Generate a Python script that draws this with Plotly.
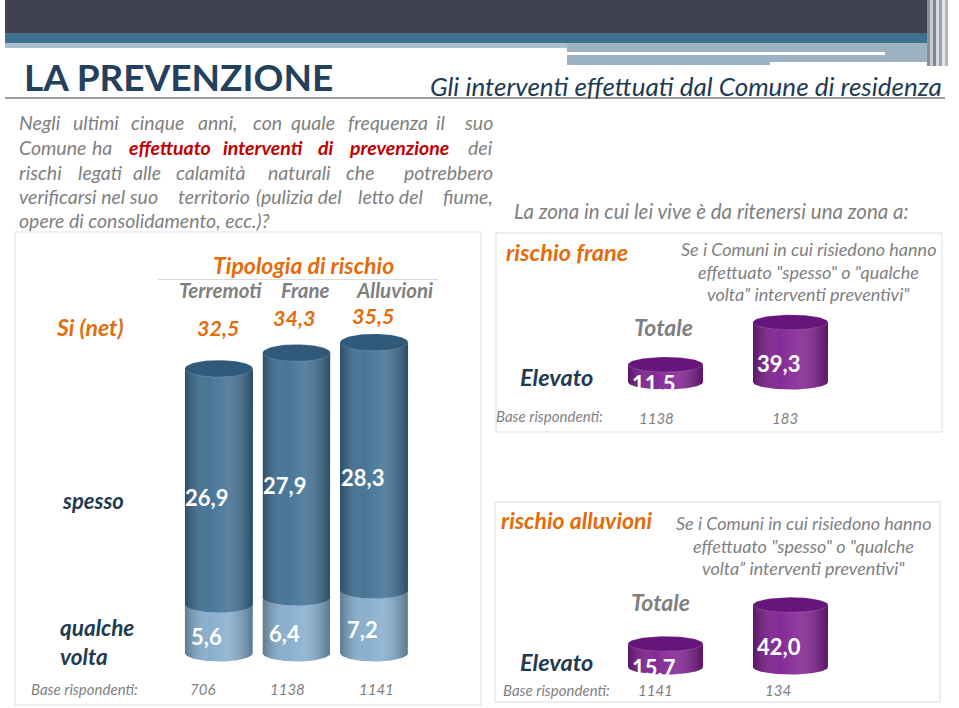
import numpy as np
import plotly.graph_objects as go

W, H = 959, 708

# ---------------- data ----------------
risk_types = ["Terremoti", "Frane", "Alluvioni"]
si_net = [32.5, 34.3, 35.5]
spesso = [26.9, 27.9, 28.3]
qualche_volta = [5.6, 6.4, 7.2]
base_left = [706, 1138, 1141]

right_groups = ["Totale", "Interventi spesso/qualche volta"]
frane_elevato = [11.5, 39.3]
frane_base = [1138, 183]
alluvioni_elevato = [15.7, 42.0]
alluvioni_base = [1141, 134]

# ---------------- helpers ----------------
def fmt(v):
    return f"{v:.1f}".replace(".", ",")

def X(p):
    return p / W

def Y(p):
    return 1 - p / H

FONT = "Lato"
GREY = "#7f7f7f"
DARK = "#1f3b52"
TITLE = "#23405c"
ORANGE = "#e46c0a"
RED = "#c00000"
BLUE_D = "#3f6e92"
BLUE_L = "#84accc"
BLUE_CAP = "#30597a"
PURPLE = "#7f1f90"
PURPLE_CAP = "#66157a"

SHADE = [[0, "rgba(0,0,0,0.30)"], [0.35, "rgba(255,255,255,0.05)"],
         [0.62, "rgba(255,255,255,0.14)"], [1, "rgba(0,0,0,0.32)"]]


def yaxis_cfg(pb, s, ymin, ymax, anchor):
    return dict(domain=[Y(pb - ymin * s), Y(pb - ymax * s)], range=[ymin, ymax],
                visible=False, fixedrange=True, anchor=anchor)


def xaxis_cfg(p0, p1, n, anchor):
    return dict(domain=[X(p0), X(p1)], range=[-0.5, n - 0.5], visible=False,
                fixedrange=True, anchor=anchor)


fig = go.Figure()

# ---------------- bars ----------------
idx3 = list(range(len(risk_types)))
idx2 = list(range(len(right_groups)))
BW_L, BW_R = 0.875, 0.6

fig.add_trace(go.Bar(x=idx3, y=qualche_volta, width=BW_L, marker=dict(color=BLUE_L, line=dict(width=0)),
                     name="qualche volta", xaxis="x", yaxis="y", hoverinfo="skip"))
fig.add_trace(go.Bar(x=idx3, y=spesso, width=BW_L, marker=dict(color=BLUE_D, line=dict(width=0)),
                     name="spesso", xaxis="x", yaxis="y", hoverinfo="skip"))
fig.add_trace(go.Bar(x=idx2, y=frane_elevato, width=BW_R, marker=dict(color=PURPLE, line=dict(width=0)),
                     name="rischio frane", xaxis="x2", yaxis="y2", hoverinfo="skip"))
fig.add_trace(go.Bar(x=idx2, y=alluvioni_elevato, width=BW_R, marker=dict(color=PURPLE, line=dict(width=0)),
                     name="rischio alluvioni", xaxis="x3", yaxis="y3", hoverinfo="skip"))


def cylinder(xi, bw, segs, colors, cap_color, ry, xa, ya):
    t = np.linspace(0, np.pi, 48)
    hx = bw / 2
    bottoms = np.concatenate([[0.0], np.cumsum(segs)[:-1]])
    top = float(np.sum(segs))
    for b, c in zip(bottoms, colors):
        fig.add_trace(go.Scatter(x=xi + hx * np.cos(t), y=b - ry * np.sin(t), fill="toself",
                                 fillcolor=c, mode="lines", line=dict(width=0), hoverinfo="skip",
                                 showlegend=False, xaxis=xa, yaxis=ya))
    xs = np.concatenate([[xi - hx, xi - hx, xi + hx, xi + hx], xi + hx * np.cos(t)])
    ys = np.concatenate([[0, top, top, 0], -ry * np.sin(t)])
    fig.add_trace(go.Scatter(x=xs, y=ys, fill="toself", mode="lines", line=dict(width=0),
                             fillgradient=dict(type="horizontal", colorscale=SHADE),
                             hoverinfo="skip", showlegend=False, xaxis=xa, yaxis=ya))
    t2 = np.linspace(0, 2 * np.pi, 80)
    fig.add_trace(go.Scatter(x=xi + hx * np.cos(t2), y=top + ry * np.sin(t2), fill="toself",
                             fillcolor=cap_color, mode="lines", line=dict(width=0.6, color="rgba(255,255,255,0.25)"),
                             hoverinfo="skip", showlegend=False, xaxis=xa, yaxis=ya))


S_L, S_R1, S_R2 = 8.75, 1.52, 1.48
for i in idx3:
    cylinder(i, BW_L, [qualche_volta[i], spesso[i]], [BLUE_L, BLUE_D], BLUE_CAP, 8.5 / S_L, "x", "y")
for i in idx2:
    cylinder(i, BW_R, [frane_elevato[i]], [PURPLE], PURPLE_CAP, 7.5 / S_R1, "x2", "y2")
    cylinder(i, BW_R, [alluvioni_elevato[i]], [PURPLE], PURPLE_CAP, 7.5 / S_R2, "x3", "y3")

# ---------------- annotations ----------------
ann = []


def txt(x, y, text, size, color, bold=False, italic=False, xanchor="center", yanchor="middle", **kw):
    d = dict(x=x, y=y, text=text, showarrow=False, xanchor=xanchor, yanchor=yanchor, borderpad=0,
             font=dict(family=FONT, size=size, color=color, weight="bold" if bold else "normal",
                       style="italic" if italic else "normal"))
    if "xref" not in kw:
        d["xref"] = "paper"
        d["yref"] = "paper"
    d.update(kw)
    ann.append(d)


# title & subtitle
txt(X(23), Y(77), "LA PREVENZIONE", 37, TITLE, bold=True, xanchor="left")
txt(X(943), Y(86), "Gli interventi effettuati dal Comune di residenza", 26, DARK, italic=True, xanchor="right")

# justified question text (word / chunk positions)
Q = 19.5
q_lines = [
    (123, [(18, "Negli", 0), (72, "ultimi", 0), (130, "cinque", 0), (197, "anni,", 0), (252, "con", 0),
           (290, "quale", 0), (347, "frequenza", 0), (435, "il", 0), (494, "suo", 2)]),
    (147, [(18, "Comune", 0), (91, "ha", 0), (128, "effettuato", 1), (222, "interventi", 1), (317, "di", 1),
           (348, "prevenzione", 1), (494, "dei", 2)]),
    (172, [(18, "rischi", 0), (77, "legati", 0), (132, "alle", 0), (175, "calamità", 0), (267, "naturali", 0),
           (345, "che", 0), (494, "potrebbero", 2)]),
    (196, [(18, "verificarsi nel suo", 0), (177, "territorio", 0), (255, "(pulizia del", 0),
           (357, "letto del", 0), (494, "fiume,", 2)]),
    (220, [(18, "opere di consolidamento, ecc.)?", 0)]),
]
for yy, words in q_lines:
    for xx, w, kind in words:
        if kind == 1:
            txt(X(xx), Y(yy), w, Q, RED, bold=True, italic=True, xanchor="left")
        else:
            txt(X(xx), Y(yy), w, Q, GREY, italic=True, xanchor="right" if kind == 2 else "left")

# left panel texts
txt(X(303), Y(265), "Tipologia di rischio", 23, ORANGE, bold=True, italic=True)
for name, cx in zip(risk_types, [220, 305, 394]):
    txt(X(cx), Y(290), name, 20.5, GREY, bold=True, italic=True)
txt(X(90), Y(327), "Si (net)", 23, ORANGE, bold=True, italic=True)
txt(X(93), Y(500), "spesso", 22, DARK, bold=True, italic=True)
txt(X(59), Y(627), "qualche", 22.5, DARK, bold=True, italic=True, xanchor="left")
txt(X(59), Y(656), "volta", 22.5, DARK, bold=True, italic=True, xanchor="left")
txt(X(30), Y(689), "Base rispondenti:", 15, GREY, italic=True, xanchor="left")
for b, cx in zip(base_left, [202, 287, 376]):
    txt(X(cx), Y(689), str(b), 15, GREY, italic=True)

for i in idx3:
    txt(i, si_net[i], fmt(si_net[i]), 21.5, ORANGE, bold=True, italic=True, xref="x", yref="y",
        yshift=[41, 35, 26][i], xshift=[-1, -3, -1][i])
    txt(i, qualche_volta[i] + spesso[i] / 2, fmt(spesso[i]), 22, "white", bold=True,
        xref="x", yref="y", xshift=-12, yshift=-11)
    txt(i, qualche_volta[i] / 2, fmt(qualche_volta[i]), 22, "white", bold=True,
        xref="x", yref="y", xshift=-12, yshift=-8)

# right panels texts
DESC = ["Se i Comuni in cui risiedono hanno", "effettuato \"spesso\" o \"qualche",
        "volta\u201d interventi preventivi\""]
D = 18
txt(X(513), Y(211), "La zona in cui lei vive è da ritenersi una zona a:", 20.5, GREY, italic=True, xanchor="left")

txt(X(505), Y(252), "rischio frane", 23.5, ORANGE, bold=True, italic=True, xanchor="left")
for k, line in enumerate(DESC):
    txt(X(808), Y(249 + 22.5 * k), line, D, GREY, italic=True)
txt(X(663), Y(327), "Totale", 23, GREY, bold=True, italic=True)
txt(X(556), Y(377), "Elevato", 23.5, DARK, bold=True, italic=True)
txt(X(495), Y(416), "Base rispondenti:", 15, GREY, italic=True, xanchor="left")
for b, cx in zip(frane_base, [656, 785]):
    txt(X(cx), Y(418), str(b), 15, GREY, italic=True)

txt(X(500), Y(520), "rischio alluvioni", 23, ORANGE, bold=True, italic=True, xanchor="left")
for k, line in enumerate(DESC):
    txt(X(803), Y(523 + 22.5 * k), line, D, GREY, italic=True)
txt(X(660), Y(602), "Totale", 23, GREY, bold=True, italic=True)
txt(X(556), Y(662), "Elevato", 23.5, DARK, bold=True, italic=True)
txt(X(502), Y(690), "Base rispondenti:", 15, GREY, italic=True, xanchor="left")
for b, cx in zip(alluvioni_base, [655, 778]):
    txt(X(cx), Y(690), str(b), 15, GREY, italic=True)

for i in idx2:
    txt(i, frane_elevato[i], fmt(frane_elevato[i]), 22, "white", bold=True, xref="x2", yref="y2",
        xshift=-12, yshift=[-19, -41][i])
    txt(i, alluvioni_elevato[i], fmt(alluvioni_elevato[i]), 22, "white", bold=True, xref="x3", yref="y3",
        xshift=-12, yshift=[-24, -42][i])

# ---------------- shapes (frame / banner) ----------------
shapes = []


def rect(x0, y0, x1, y1, fill, line=None, layer="below"):
    shapes.append(dict(type="rect", xref="paper", yref="paper", x0=X(x0), x1=X(x1), y0=Y(y1), y1=Y(y0),
                       fillcolor=fill, line=dict(width=1 if line else 0, color=line or fill), layer=layer))


def hline(x0, x1, y, color, width=1):
    shapes.append(dict(type="line", xref="paper", yref="paper", x0=X(x0), x1=X(x1), y0=Y(y), y1=Y(y),
                       line=dict(color=color, width=width), layer="below"))


rect(5, 0, 945, 33, "#404254")
rect(5, 33, 945, 43, "#3f7090")
rect(5, 43, 567, 48, "#a9bfcf")
rect(567, 43, 937, 65, "#9db3c3")
rect(770, 62, 937, 66, "white")
hline(567, 885, 53.5, "white", 3)
for k, c in enumerate(["#8a8f9a", "#c4ccd4", "#7f8790", "#d5dbe0", "#9aa2ab", "#e2e6ea", "#b0b8c0"]):
    rect(927 + 3 * k, 0, 930 + 3 * k, 66, c)
hline(5, 945, 98, "#7f7f7f", 1.5)

rect(15, 232, 481, 705, "white", "#dedede")
rect(496, 233, 942, 432, "white", "#dedede")
rect(495, 502, 940, 702, "white", "#dedede")
hline(158, 438, 279.5, "#d9d9d9", 1)

fig.update_layout(
    width=W, height=H, margin=dict(l=0, r=0, t=0, b=0), autosize=False,
    paper_bgcolor="white", plot_bgcolor="rgba(0,0,0,0)", showlegend=False,
    barmode="stack", bargap=0,
    xaxis=xaxis_cfg(180, 413, 3, "y"),
    yaxis=yaxis_cfg(653, S_L, -3, 40, "x"),
    xaxis2=xaxis_cfg(603, 853, 2, "y2"),
    yaxis2=yaxis_cfg(382, S_R1, -8, 54, "x2"),
    xaxis3=xaxis_cfg(603, 853, 2, "y3"),
    yaxis3=yaxis_cfg(667, S_R2, -8, 55, "x3"),
    annotations=ann, shapes=shapes,
    font=dict(family=FONT),
)

fig.write_html("out.html", config={"displayModeBar": False})
